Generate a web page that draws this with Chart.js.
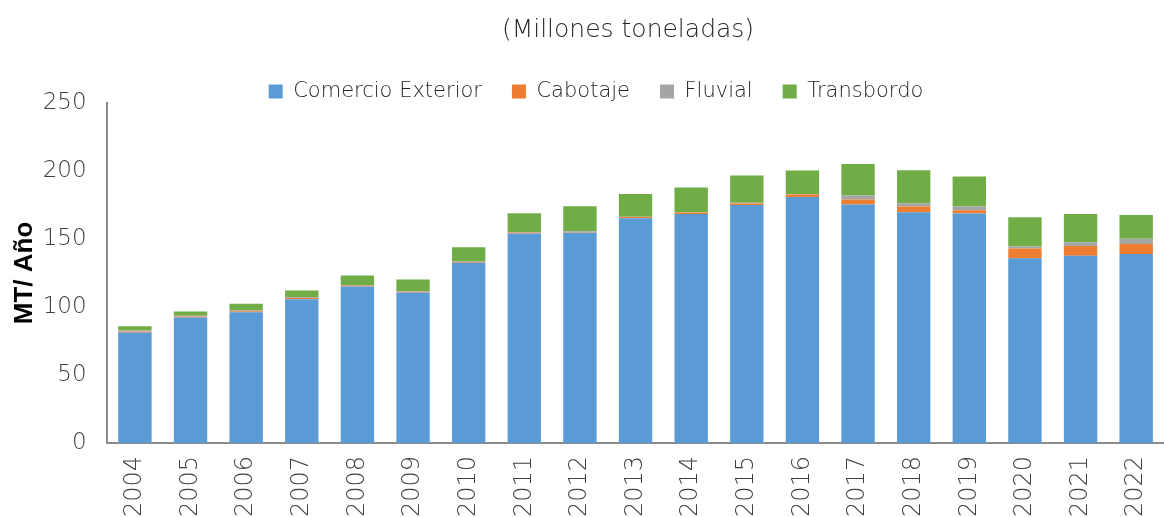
<!DOCTYPE html>
<html>
<head>
<meta charset="utf-8">
<script src="https://cdn.jsdelivr.net/npm/chart.js@4"></script>
<style>
  html, body { margin: 0; padding: 0; background: #fff; }
  #wrap { width: 1164px; height: 517px; }
</style>
</head>
<body>
<div id="wrap"><canvas id="myBarChart"></canvas></div>
<script>
// Datos (millones de toneladas)
const years = ["2004", "2005", "2006", "2007", "2008", "2009", "2010", "2011", "2012", "2013",
               "2014", "2015", "2016", "2017", "2018", "2019", "2020", "2021", "2022"];
const comercioExterior = [81.3, 92.2, 96.1, 105.7, 115.0, 110.6, 132.5, 154.0, 154.6, 165.2,
                          168.4, 175.0, 180.9, 175.3, 169.6, 168.7, 135.9, 137.7, 138.9];
const cabotaje = [0.7, 0.8, 0.8, 0.8, 0.8, 0.5, 0.5, 0.8, 0.3, 1.0,
                  1.0, 1.0, 1.8, 3.7, 4.2, 2.5, 7.0, 7.1, 7.4];
const fluvial = [0.6, 0.6, 0.6, 0.6, 0.4, 0.5, 0.5, 0.3, 0.8, 0.2,
                 0.3, 0.7, 0.4, 3.0, 2.5, 2.7, 1.5, 2.7, 3.9];
const transbordo = [3.2, 3.0, 4.8, 5.0, 7.0, 8.6, 10.5, 13.8, 18.3, 16.7,
                    18.1, 20.0, 17.3, 23.2, 24.3, 22.0, 21.5, 20.9, 17.4];
const yTicks = [0, 50, 100, 150, 200, 250];

const lightFont = '"DejaVu Sans", sans-serif';

// Titulo centrado sobre el grafico
const titlePlugin = {
    id: 'topTitle',
    afterDraw(chart) {
        const c = chart.ctx;
        c.save();
        c.font = '200 25px ' + lightFont;
        c.fillStyle = '#262626';
        c.textAlign = 'center';
        c.textBaseline = 'middle';
        c.fillText('(Millones toneladas)', 628, 30);
        c.restore();
    }
};

function barSet(label, data, color) {
    return {
        label: label,
        data: data,
        backgroundColor: color,
        borderWidth: 0,
        barPercentage: 0.6,
        categoryPercentage: 1.0
    };
}

var ctx = document.getElementById("myBarChart");
var myBarChart = new Chart(ctx, {
    type: 'bar',
    data: {
        labels: years,
        datasets: [
            barSet("Comercio Exterior", comercioExterior, "#5B9BD5"),
            barSet("Cabotaje", cabotaje, "#ED7D31"),
            barSet("Fluvial", fluvial, "#A5A5A5"),
            barSet("Transbordo", transbordo, "#70AD47")
        ]
    },
    options: {
        responsive: true,
        maintainAspectRatio: false,
        animation: false,
        layout: {
            padding: { top: 51, right: -3, left: 9, bottom: -13 }
        },
        scales: {
            x: {
                stacked: true,
                grid: { display: false, drawTicks: false },
                border: { display: true, color: '#8c8c8c', width: 2 },
                ticks: {
                    color: '#404040',
                    font: { family: lightFont, size: 24, weight: '200' },
                    minRotation: 90,
                    maxRotation: 90,
                    padding: 13
                },
                // el area llega hasta el borde derecho
                afterFit: function (scale) {
                    scale.paddingRight = 0;
                }
            },
            y: {
                stacked: true,
                min: 0,
                max: 250,
                afterBuildTicks: function (axis) {
                    axis.ticks = yTicks.map(v => ({ value: v }));
                },
                grid: { display: false, drawTicks: false },
                border: { display: true, color: '#8c8c8c', width: 2 },
                ticks: {
                    color: '#404040',
                    font: { family: lightFont, size: 23, weight: '200' },
                    padding: 20.5
                },
                title: {
                    display: true,
                    text: 'MT/ Año',
                    color: '#000',
                    font: { family: '"Liberation Sans", Arial, sans-serif', size: 26, weight: 'bold' },
                    padding: { top: 0, bottom: -18 }
                }
            }
        },
        plugins: {
            legend: {
                display: true,
                position: 'top',
                labels: {
                    color: '#262626',
                    boxWidth: 14,
                    boxHeight: 14,
                    padding: 30,
                    font: { family: lightFont, size: 21, weight: '200' }
                }
            },
            tooltip: { enabled: false }
        }
    },
    plugins: [titlePlugin]
});

// la leyenda queda mas pegada al area del grafico (sin recorte)
const legendFit = myBarChart.legend.fit;
myBarChart.legend.fit = function () {
    legendFit.call(this);
    this.height -= 9;
};
myBarChart.legend.draw = function () {
    if (this.options.display) {
        this.ctx.save();
        this.ctx.translate(8, 0);
        this._draw();
        this.ctx.restore();
    }
};
myBarChart.update();
</script>
</body>
</html>
